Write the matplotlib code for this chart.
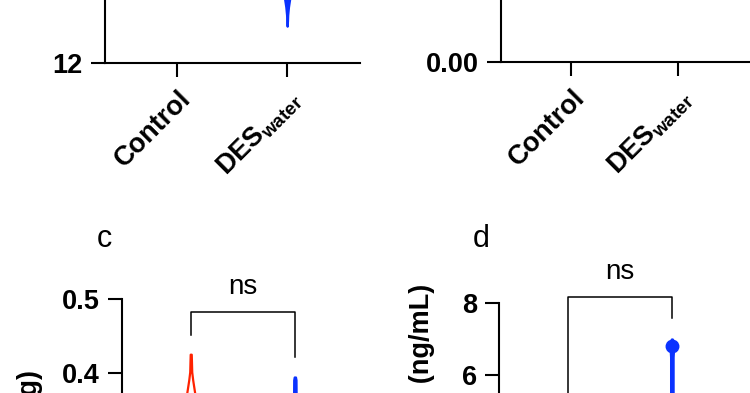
import matplotlib
matplotlib.use("Agg")
import matplotlib.pyplot as plt
import numpy as np

plt.rcParams['font.family'] = ['Liberation Sans', 'DejaVu Sans']
plt.rcParams['font.weight'] = 'bold'
plt.rcParams['axes.labelweight'] = 'bold'
plt.rcParams['mathtext.fontset'] = 'custom'
plt.rcParams['mathtext.bf'] = 'Liberation Sans:bold'
plt.rcParams['mathtext.rm'] = 'Liberation Sans:bold'

groups = ["Control", r"DES$_{\mathbf{water}}$"]
red = "#ff2200"
blue = "#0a32ff"

# panel a: DES_water violin outline (value, half width)
a_des_vals = [12.92, 13.05, 13.2, 13.4, 13.6, 14.0]
a_des_hw = [0.0, 0.003, 0.005, 0.012, 0.023, 0.04]
a_ticks = [12, 14, 16, 18]

# panel b
b_ticks = [0.0, 0.1, 0.2]

# panel c
c_ctrl_vals = [0.425, 0.415, 0.401, 0.39, 0.3725, 0.35]
c_ctrl_hw = [0.005, 0.007, 0.0096, 0.019, 0.038, 0.067]
c_des_vals = [0.394, 0.39, 0.37, 0.34]
c_des_hw = [0.006, 0.011, 0.012, 0.014]
c_bracket = [0.451, 0.482, 0.421]   # left end, top, right end
c_ticks = [0.0, 0.1, 0.2, 0.3, 0.4, 0.5]

# panel d
d_des_vals = [7.0, 6.9, 6.5, 5.5, 4.5]
d_des_hw = [0.004, 0.02, 0.012, 0.012, 0.013]
d_des_mean = 6.8
d_bracket = [5.0, 8.17, 7.58]
d_ticks = [0, 2, 4, 6, 8]

W, H = 750, 393
fig = plt.figure(figsize=(W / 100, H / 100), dpi=100)


def px_axes(left, right, xaxis_y, height):
    # axes placed in pixel units of the canvas (top-left origin)
    return fig.add_axes([left / W, (H - xaxis_y) / H, (right - left) / W, height / H])


def style(ax, ticks, fmt):
    for s in ['top', 'right']:
        ax.spines[s].set_visible(False)
    for s in ['left', 'bottom']:
        ax.spines[s].set_linewidth(1.5)
    ax.set_yticks(ticks)
    ax.set_yticklabels([fmt.format(t) for t in ticks])
    ax.set_xticks([0, 1])
    ax.set_xticklabels(groups, rotation=45, ha='right', va='top', rotation_mode='anchor')
    ax.tick_params(labelsize=19.5, width=1.5, length=10, pad=6)
    ax.set_xlim(-0.66, 1.664)


def violin(ax, x, vals, hw, color, face):
    vals = np.array(vals)
    hw = np.array(hw)
    ax.fill_betweenx(vals, x - hw, x + hw, facecolor=face, edgecolor=color, linewidth=1.6)


def bracket(ax, br, text):
    ax.plot([0, 0, 1, 1], [br[0], br[1], br[1], br[2]], color='black', lw=1.1, clip_on=False)
    ax.annotate(text, (0.5, br[1]), xytext=(0, 13), textcoords='offset points',
                ha='center', va='baseline', fontsize=20, fontweight='normal', annotation_clip=False)


# a
ax_a = px_axes(105, 360, 63, 240)
style(ax_a, a_ticks, "{:d}")
ax_a.set_ylim(12, 18)
violin(ax_a, 1, a_des_vals, a_des_hw, blue, blue)

# b
ax_b = px_axes(501, 749, 62, 240)
style(ax_b, b_ticks, "{:.2f}")
ax_b.set_ylim(0, 0.2)

# c
ax_c = px_axes(122, 364, 667, 368)
style(ax_c, c_ticks, "{:.1f}")
ax_c.set_ylim(0, 0.5)
violin(ax_c, 0, c_ctrl_vals, c_ctrl_hw, red, 'white')
violin(ax_c, 1, c_des_vals, c_des_hw, blue, blue)
bracket(ax_c, c_bracket, "ns")
ax_c.set_ylabel("Weight (g)", fontsize=19.5, fontweight='bold', ha='right', va='center')
ax_c.yaxis.set_label_coords(30 / W, (H - 370) / H, transform=fig.transFigure)

# d
ax_d = px_axes(499, 741, 591, 288)
style(ax_d, d_ticks, "{:d}")
ax_d.set_ylim(0, 8)
violin(ax_d, 1, d_des_vals, d_des_hw, blue, blue)
ax_d.plot([1], [d_des_mean], 'o', color=blue, ms=9)
bracket(ax_d, d_bracket, "ns")
ax_d.set_ylabel("Level (ng/mL)", fontsize=19.5, fontweight='bold', ha='right', va='center')
ax_d.yaxis.set_label_coords(422 / W, (H - 284) / H, transform=fig.transFigure)

fig.text(97 / W, (H - 247) / H, "c", fontsize=22, fontweight='normal', ha='left', va='baseline')
fig.text(473 / W, (H - 247) / H, "d", fontsize=22, fontweight='normal', ha='left', va='baseline')

fig.savefig("out.png", dpi=100)
